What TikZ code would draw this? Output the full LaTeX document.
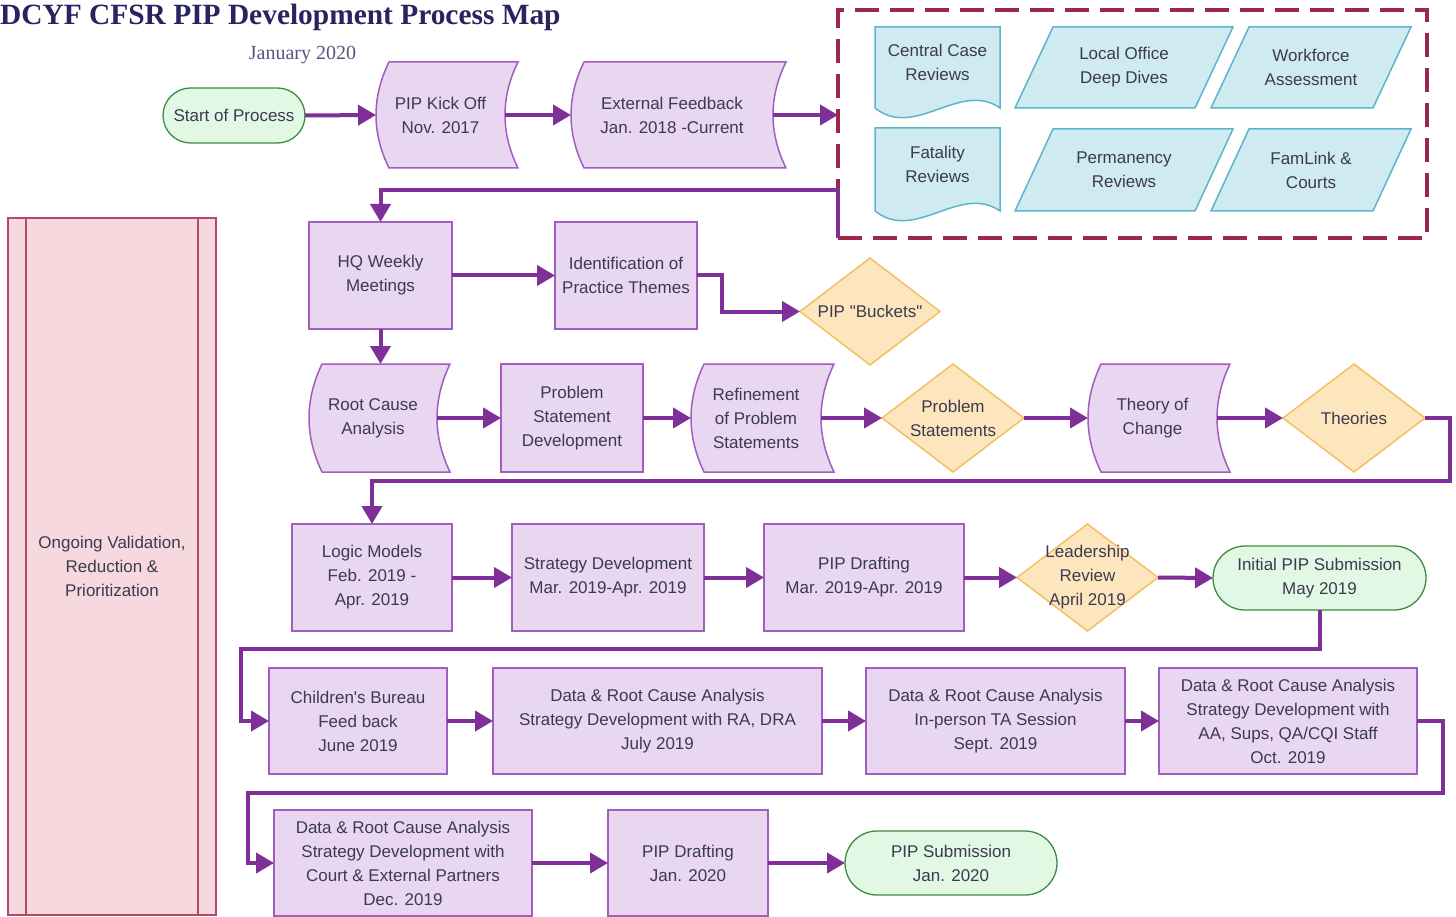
\documentclass[tikz,border=0pt]{standalone}
\usepackage{fontspec}
\setmainfont{Liberation Sans}
\newfontfamily\bodyfont{Liberation Sans}
\newfontfamily\titlefont{Liberation Serif}
\usetikzlibrary{arrows.meta,backgrounds,calc}
\definecolor{flowc}{RGB}{126,47,152}
\definecolor{boxfill}{RGB}{233,214,240}
\definecolor{boxline}{RGB}{163,92,192}
\definecolor{dmfill}{RGB}{253,229,190}
\definecolor{dmline}{RGB}{243,192,98}
\definecolor{stfill}{RGB}{224,248,228}
\definecolor{stline}{RGB}{60,140,65}
\definecolor{bluefill}{RGB}{207,234,241}
\definecolor{blueline}{RGB}{92,182,203}
\definecolor{barfill}{RGB}{246,216,222}
\definecolor{barline}{RGB}{176,74,104}
\definecolor{dashc}{RGB}{156,40,72}
\definecolor{txt}{RGB}{60,58,78}
\definecolor{titlec}{RGB}{40,36,96}
\definecolor{subc}{RGB}{95,80,125}
\tikzset{
  sz/.style 2 args={minimum width=#1pt, minimum height=#2pt},
  base/.style={inner sep=0pt, outer sep=0pt, align=center, text=txt, font=\fontsize{17}{24}\selectfont\bodyfont},
  shapeless/.style={base},
  procbox/.style={base, draw=boxline, fill=boxfill, line width=1.5pt},
  terminal/.style={base, draw=stline, fill=stfill, line width=1.3pt, rounded corners=#1},
  barbox/.style={base, draw=barline, fill=barfill, line width=1.3pt},
  dashbox/.style={inner sep=0pt, outer sep=0pt, draw=dashc, line width=4pt, dash pattern=on 24pt off 11pt},
  stdstyle/.style={draw=boxline, fill=boxfill, line width=1.5pt},
  dmstyle/.style={draw=dmline, fill=dmfill, line width=1.5pt},
  bluestyle/.style={draw=blueline, fill=bluefill, line width=1.5pt},
  flow/.style={draw=flowc, line width=4pt, -{Triangle[length=18pt,width=20pt]}},
}
\newcommand\stshape[1]{\path[stdstyle] ([xshift=13]#1.north west) -- ([xshift=13]#1.north east)
  .. controls ([xshift=-4.3,yshift=18]#1.east) and ([xshift=-4.3,yshift=-18]#1.east) .. ([xshift=13]#1.south east)
  -- ([xshift=13]#1.south west)
  .. controls ([xshift=-4.3,yshift=-18]#1.west) and ([xshift=-4.3,yshift=18]#1.west) .. ([xshift=13]#1.north west) -- cycle;}
\newcommand\dmshape[1]{\path[dmstyle] (#1.north) -- (#1.east) -- (#1.south) -- (#1.west) -- cycle;}
\newcommand\plshape[1]{\path[bluestyle] ([xshift=38]#1.north west) -- (#1.north east) -- ([xshift=-38]#1.south east) -- (#1.south west) -- cycle;}
\newcommand\docshape[1]{\path[bluestyle] (#1.north west) -- (#1.north east) -- ([yshift=-11]#1.south east)
  .. controls ([xshift=-40,yshift=17]#1.south east) and ([xshift=40,yshift=-43]#1.south west) .. ([yshift=-11]#1.south west) -- cycle;}
\begin{document}
\begin{tikzpicture}[x=1pt,y=-1pt]
\useasboundingbox (0,0) rectangle (1456,917);
% titles
\node[anchor=base west, inner sep=0pt, text=titlec, font=\fontsize{29.4}{34}\selectfont\titlefont\bfseries] (title) at (0,25) {DCYF CFSR PIP Development Process Map};
\node[anchor=base, inner sep=0pt, text=subc, font=\fontsize{20}{24}\selectfont\titlefont] (date) at (302.5,60) {January 2020};
% left bar
\node[barbox, sz={208}{697}] (bar) at (112,566.5) {Ongoing Validation,\\Reduction \&\\Prioritization};
\draw[draw=barline, line width=1.3pt] ([xshift=18]bar.north west) -- ([xshift=18]bar.south west);
\draw[draw=barline, line width=1.3pt] ([xshift=-18]bar.north east) -- ([xshift=-18]bar.south east);
% row 1
\node[terminal=27.5pt, sz={142}{55}] (start) at (234,115.5) {Start of Process};
\node[shapeless, sz={129}{106}] (kick) at (440.5,115) {PIP Kick Off\\Nov. 2017};
\node[shapeless, sz={202}{106}] (ext) at (672,115) {External Feedback\\Jan. 2018 -Current};
% group
\node[dashbox, sz={589}{228}] (grp) at (1132.5,124) {};
\node[shapeless, sz={125}{70}] (ccr) at (937.5,62) {Central Case\\Reviews};
\node[shapeless, sz={218}{81}] (lod) at (1124,67.5) {Local Office\\Deep Dives};
\node[shapeless, sz={200}{81}] (wfa) at (1311,67.5) {Workforce\\Assessment};
\node[shapeless, sz={125}{72}] (fat) at (937.5,164) {Fatality\\Reviews};
\node[shapeless, sz={218}{82}] (per) at (1124,170) {Permanency\\Reviews};
\node[shapeless, sz={200}{82}] (fam) at (1311,170) {FamLink \&\\Courts};
% row 2
\node[procbox, sz={143}{107}] (hq) at (380.5,275.5) {HQ Weekly\\Meetings};
\node[procbox, sz={142}{107}] (ident) at (626,275.5) {Identification of\\Practice Themes};
\node[shapeless, sz={140}{107}] (buckets) at (870,311.5) {PIP "Buckets"};
% row 3
\node[shapeless, sz={128}{108}] (rca) at (373,418) {Root Cause\\Analysis};
\node[procbox, sz={142}{108}] (psd) at (572,418) {Problem\\Statement\\Development};
\node[shapeless, sz={130}{108}] (ref) at (756,418) {Refinement\\of Problem\\Statements};
\node[shapeless, sz={142}{108}] (ps) at (953,418) {Problem\\Statements};
\node[shapeless, sz={129}{108}] (toc) at (1152.5,418) {Theory of\\Change};
\node[shapeless, sz={142}{108}] (theo) at (1354,418) {Theories};
% row 4
\node[procbox, sz={160}{107}] (lm) at (372,577.5) {Logic Models\\Feb. 2019 -\\Apr. 2019};
\node[procbox, sz={192}{107}] (sd) at (608,577.5) {Strategy Development\\Mar. 2019-Apr. 2019};
\node[procbox, sz={200}{107}] (pd) at (864,577.5) {PIP Drafting\\Mar. 2019-Apr. 2019};
\node[shapeless, sz={141}{107}] (lr) at (1087.5,577.5) {Leadership\\Review\\April 2019};
\node[terminal=32pt, sz={213}{64}] (ips) at (1319.5,578) {Initial PIP Submission\\May 2019};
% row 5
\node[procbox, sz={178}{106}] (cb) at (358,721) {Children's Bureau\\Feed back\\June 2019};
\node[procbox, sz={329}{106}] (dr1) at (657.5,721) {Data \& Root Cause Analysis\\Strategy Development with RA, DRA\\July 2019};
\node[procbox, sz={259}{106}] (dr2) at (995.5,721) {Data \& Root Cause Analysis\\In-person TA Session\\Sept. 2019};
\node[procbox, sz={258}{106}] (dr3) at (1288,721) {Data \& Root Cause Analysis\\Strategy Development with\\AA, Sups, QA/CQI Staff\\Oct. 2019};
% row 6
\node[procbox, sz={258}{106}] (dr4) at (403,863) {Data \& Root Cause Analysis\\Strategy Development with\\Court \& External Partners\\Dec. 2019};
\node[procbox, sz={160}{106}] (pd2) at (688,863) {PIP Drafting\\Jan. 2020};
\node[terminal=32pt, sz={212}{64}] (psub) at (951,863) {PIP Submission\\Jan. 2020};
% shapes behind text
\begin{pgfonlayer}{background}
\stshape{kick}\stshape{ext}\stshape{rca}\stshape{ref}\stshape{toc}
\docshape{ccr}\docshape{fat}
\plshape{lod}\plshape{wfa}\plshape{per}\plshape{fam}
\dmshape{buckets}\dmshape{ps}\dmshape{theo}\dmshape{lr}
\end{pgfonlayer}
% connectors
\draw[flow] (start.east) -- (kick.west);
\draw[flow] (kick.east) -- (ext.west);
\draw[flow] (ext.east) -- (ext.east -| grp.west);
\draw[flow] (grp.south west) -- ++(0,-48) -| (hq.north);
\draw[flow] (hq.east) -- (ident.west);
\draw[flow] (ident.east) -- ++(25,0) |- (buckets.west);
\draw[flow] (hq.south) -- (hq.south |- rca.north);
\draw[flow] (rca.east) -- (psd.west);
\draw[flow] (psd.east) -- (ref.west);
\draw[flow] (ref.east) -- (ps.west);
\draw[flow] (ps.east) -- (toc.west);
\draw[flow] (toc.east) -- (theo.west);
\draw[flow] (theo.east) -- ++(25,0) -- ++(0,63) -| (lm.north);
\draw[flow] (lm.east) -- (sd.west);
\draw[flow] (sd.east) -- (pd.west);
\draw[flow] (pd.east) -- (lr.west);
\draw[flow] (lr.east) -- (ips.west);
\draw[flow] (ips.south) -- ++(0,39) -| ([xshift=-28]cb.west) -- (cb.west);
\draw[flow] (cb.east) -- (dr1.west);
\draw[flow] (dr1.east) -- (dr2.west);
\draw[flow] (dr2.east) -- (dr3.west);
\draw[flow] (dr3.east) -- ++(26,0) -- ++(0,72) -| ([xshift=-26]dr4.west) -- (dr4.west);
\draw[flow] (dr4.east) -- (pd2.west);
\draw[flow] (pd2.east) -- (psub.west);
\end{tikzpicture}
\end{document}
